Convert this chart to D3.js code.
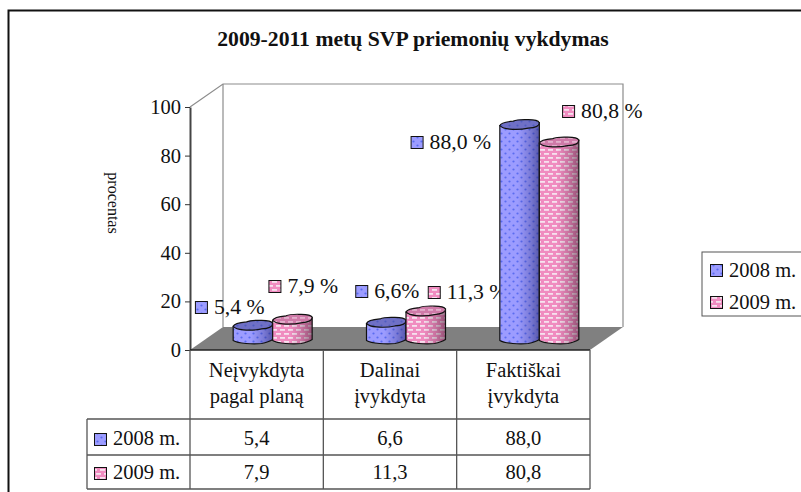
<!DOCTYPE html>
<html><head><meta charset="utf-8">
<script src="https://cdnjs.cloudflare.com/ajax/libs/d3/7.8.5/d3.min.js"></script>
<style>html,body{margin:0;padding:0;background:#fff;overflow:hidden}svg{display:block}text{font-family:"Liberation Serif",serif;fill:#111}</style>
</head><body><div id="c"></div>
<script>
const title = "2009-2011 metų SVP priemonių vykdymas";
const yAxisTitle = "procentas";
const categories = ["Neįvykdyta|pagal planą", "Dalinai|įvykdyta", "Faktiškai|įvykdyta"];
const seriesNames = ["2008 m.", "2009 m."];
const values2008 = [5.4, 6.6, 88.0];
const values2009 = [7.9, 11.3, 80.8];
const yTicks = [0, 20, 40, 60, 80, 100];
const labels2008 = ["5,4 %", "6,6%", "88,0 %"];
const labels2009 = ["7,9 %", "11,3 %", "80,8 %"];
const tableRows2008 = ["5,4", "6,6", "88,0"];
const tableRows2009 = ["7,9", "11,3", "80,8"];

const W = 801, H = 492;
const plot = {x0: 190, x1: 590, y0: 350, y1: 107, dx: 33, dy: -23};
const barDepth = {dx: 16, dy: -11.5};
const series = [
  {name: seriesNames[0], values: values2008, labels: labels2008, table: tableRows2008, fill: "url(#pBlue)", top: "url(#pBlueTop)", key: "url(#pBlue)", shade: "url(#shadeBlue)"},
  {name: seriesNames[1], values: values2009, labels: labels2009, table: tableRows2009, fill: "url(#pPink)", top: "url(#pPinkTop)", key: "url(#pPink)", shade: "url(#shadePink)"}
];
// hand-placed data label offsets (key box left, key box centre) relative to the bar's top centre
const labelOffsets = [
  [[-58, -18], [-24, -33]],
  [[-31, -31], [2, -19]],
  [[-109, 17], [3, -31]]
];

const svg = d3.select("#c").append("svg").attr("width", W).attr("height", H);
const defs = svg.append("defs");
function pat(id, w, h, bg, draw) {
  const p = defs.append("pattern").attr("id", id).attr("patternUnits", "userSpaceOnUse").attr("width", w).attr("height", h);
  p.append("rect").attr("width", w).attr("height", h).attr("fill", bg);
  draw(p);
}
function dots(p, col) {
  [[1.5, 1.5], [5.5, 5.5]].forEach(d => p.append("circle").attr("cx", d[0]).attr("cy", d[1]).attr("r", 1.1).attr("fill", col));
}
function dashes(p, col) {
  [[0, 1, 5], [4, 5, 5]].forEach(d => p.append("rect").attr("x", d[0]).attr("y", d[1]).attr("width", d[2]).attr("height", 1.8).attr("fill", col));
  p.append("rect").attr("x", -4).attr("y", 5).attr("width", 5).attr("height", 1.8).attr("fill", col);
  p.append("rect").attr("x", 8).attr("y", 5).attr("width", 5).attr("height", 1.8).attr("fill", col);
}
pat("pBlue", 8, 8, "#9c9cff", p => dots(p, "#5a6cf0"));
pat("pBlueTop", 8, 8, "#6f70c6", p => dots(p, "#4f5cc0"));
pat("pPink", 8, 8, "#f08cc0", p => dashes(p, "#f6e2ee"));
pat("pPinkTop", 8, 8, "#cf7aa8", p => dashes(p, "#e3b0cc"));
function shade(id, col) {
  const g = defs.append("linearGradient").attr("id", id);
  [[0, 0], [0.45, 0], [0.75, 0.25], [1, 0.55]].forEach(s => g.append("stop").attr("offset", s[0]).attr("stop-color", col).attr("stop-opacity", s[1]));
}
shade("shadeBlue", "#20206a");
shade("shadePink", "#4a2038");

svg.append("path").attr("d", `M8.5,${H + 5}V10.5H${W + 5}`).attr("fill", "none").attr("stroke", "#111").attr("stroke-width", 2);

svg.append("text").attr("x", 413).attr("y", 46).attr("text-anchor", "middle").attr("font-weight", "bold").attr("font-size", 21.7).text(title);

const y = d3.scaleLinear().domain([0, 100]).range([plot.y0, plot.y1]);
const xBand = d3.scaleBand().domain(d3.range(categories.length)).range([plot.x0, plot.x1]);
const xSeries = d3.scaleBand().domain([0, 1]).range([0, 79]);

// walls and floor
const wall = "#8c8c8c";
svg.append("path").attr("fill", "#808080").attr("d", `M${plot.x0},${plot.y0}L${plot.x0 + plot.dx},${plot.y0 + plot.dy}H${plot.x1 + plot.dx}L${plot.x1},${plot.y0}Z`);
svg.append("path").attr("fill", "none").attr("stroke", wall).attr("stroke-width", 1.2)
  .attr("d", `M${plot.x0},${plot.y1}L${plot.x0 + plot.dx},${plot.y1 + plot.dy}H${plot.x1 + plot.dx}V${plot.y0 + plot.dy}`);
svg.append("path").attr("fill", "none").attr("stroke", wall).attr("stroke-width", 1.2)
  .attr("d", `M${plot.x0 + plot.dx},${plot.y1 + plot.dy}V${plot.y0 + plot.dy}`);

// y axis
const axis = d3.axisLeft(y).tickValues(yTicks).tickSize(5).tickSizeOuter(0).tickPadding(4);
const gAxis = svg.append("g").attr("transform", `translate(${plot.x0},0)`).call(axis);
gAxis.select(".domain").attr("stroke", "#444").attr("stroke-width", 2);
gAxis.selectAll(".tick line").attr("stroke", "#333").attr("stroke-width", 1);
gAxis.selectAll(".tick text").attr("font-size", 20.5).attr("font-family", "Liberation Serif").attr("fill", "#111");
svg.append("text").attr("transform", "translate(108,203) rotate(90)").attr("text-anchor", "middle").attr("font-size", 16).text(yAxisTitle);

// data labels first (bars paint over them)
const keyS = 12;
function key(g, x, yc, fill) {
  g.append("rect").attr("x", x + .5).attr("y", Math.round(yc - keyS / 2) + .5).attr("width", keyS).attr("height", keyS).attr("fill", fill).attr("stroke", "#111").attr("stroke-width", 1);
}
function barX(i, s) { return xBand(i) + barDepth.dx + xBand.bandwidth() / 2 - 39.5 + xSeries(s); }
series.forEach((s, si) => s.values.forEach((v, i) => {
  const cx = barX(i, si) + xSeries.bandwidth() / 2, ty = y(v) + barDepth.dy;
  const o = labelOffsets[i][si];
  const kx = cx + o[0], kc = ty + o[1];
  key(svg, kx, kc, s.fill);
  svg.append("text").attr("x", kx + 19).attr("y", kc + 7).attr("font-size", 21.7).text(s.labels[i]);
}));

// slightly irregular cylinder outline helpers: the shape depends only on the bar's left edge, width and heights
function topPath(l, w, yc) {
  const r = l + w;
  return `M${l},${yc + 1}C${l + 1},${yc - 2} ${l + w * .2},${yc - 3} ${l + w * .34},${yc - 3.5}C${l + w * .45},${yc - 5.5} ${l + w * .6},${yc - 5} ${l + w * .72},${yc - 5}` +
    `C${l + w * .85},${yc - 5} ${r - 1},${yc - 4} ${r},${yc - 2}C${r},${yc + 1} ${r - 3},${yc + 3} ${l + w * .72},${yc + 3.5}` +
    `C${l + w * .55},${yc + 5} ${l + w * .4},${yc + 5} ${l + w * .25},${yc + 4.5}C${l + w * .12},${yc + 4} ${l + 2},${yc + 3} ${l},${yc + 1}Z`;
}
function bodyPath(l, w, yc, yb) {
  const r = l + w;
  return `M${l},${yc + 1}V${yb - 2}C${l + 5},${yb + 1} ${l + w * .5},${yb + 2} ${l + w * .72},${yb + 1}C${l + w * .85},${yb} ${r - 3},${yb - 1} ${r},${yb - 3}V${yc - 2}Z`;
}
const baseY = y(0) + barDepth.dy + 4;
categories.forEach((c, i) => {
  series.forEach((s, si) => {
    const l = barX(i, si), w = xSeries.bandwidth(), yc = y(s.values[i]) + barDepth.dy;
    const g = svg.append("g");
    g.append("path").attr("d", bodyPath(l, w, yc, baseY)).attr("fill", s.fill);
    g.append("path").attr("d", bodyPath(l, w, yc, baseY)).attr("fill", s.shade).attr("stroke", "#111").attr("stroke-width", 1.2);
    g.append("path").attr("d", topPath(l, w, yc)).attr("fill", s.top).attr("stroke", "#111").attr("stroke-width", 1.2);
  });
});

// data table
const rowY = [plot.y0, 419, 455, 489];
const tableLeft = 87;
const grid = "#555";
const tg = svg.append("g").attr("fill", "none").attr("stroke", grid).attr("stroke-width", 1.3);
tg.append("path").attr("d", `M${plot.x0},${plot.y0}H${plot.x1}`).attr("stroke", "#222").attr("stroke-width", 1.5);
xBand.domain().concat([categories.length]).forEach(i => {
  const x = i < categories.length ? xBand(i) : plot.x1;
  tg.append("path").attr("d", `M${x},${plot.y0}V${rowY[3]}`);
});
rowY.slice(1).forEach(ry => tg.append("path").attr("d", `M${tableLeft},${ry}H${plot.x1}`));
tg.append("path").attr("d", `M${tableLeft},${rowY[1]}V${rowY[3]}`);

categories.forEach((c, i) => {
  const cx = xBand(i) + xBand.bandwidth() / 2;
  c.split("|").forEach((t, j) => svg.append("text").attr("x", cx).attr("y", 377 + j * 26).attr("text-anchor", "middle").attr("font-size", 20.5).text(t));
  series.forEach((s, si) => svg.append("text").attr("x", cx).attr("y", 445 + si * 34).attr("text-anchor", "middle").attr("font-size", 20.5).text(s.table[i]));
});
series.forEach((s, si) => {
  const by = 445 + si * 34;
  key(svg, 94, by - 6, s.key);
  svg.append("text").attr("x", 113).attr("y", by).attr("font-size", 20.5).text(s.name);
});

// legend
svg.append("rect").attr("x", 702).attr("y", 252).attr("width", 120).attr("height", 64).attr("fill", "#fff").attr("stroke", "#555").attr("stroke-width", 1);
series.forEach((s, si) => {
  const yc = 270 + si * 32;
  key(svg, 710, yc, s.key);
  svg.append("text").attr("x", 729).attr("y", yc + 7).attr("font-size", 20.5).text(s.name);
});
</script></body></html>
